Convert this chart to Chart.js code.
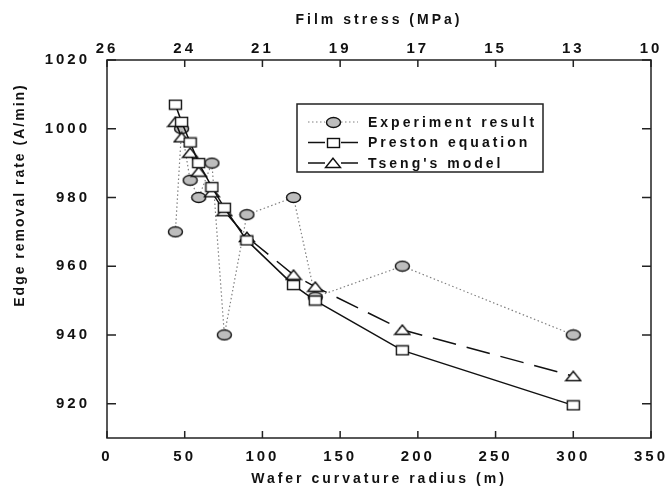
<!DOCTYPE html>
<html lang="en">
<head>
<meta charset="UTF-8">
<title>Edge removal rate vs wafer curvature radius</title>
<script src="https://cdn.jsdelivr.net/npm/chart.js"></script>
<style>
    html, body { margin: 0; padding: 0; background: #fff; }
    .chart-container { position: relative; width: 667px; height: 488px; }
</style>
</head>
<body>
<div class="chart-container"><canvas id="removalChart"></canvas></div>
<script>
// Wafer curvature radius (m) for every measured/modelled point
const radius = [44, 48, 53.5, 59, 67.5, 75.5, 90, 120, 134, 190, 300];
// Edge removal rate (A/min)
const experiment = [970, 1000, 985, 980, 990, 940, 975, 980, 951, 960, 940];
const preston = [1007, 1002, 996, 990, 983, 977, 967.5, 954.5, 950, 935.5, 919.5];
const tseng = [1002, 997.5, 993, 987.5, 981.5, 976, 968.5, 957.5, 954, 941.5, 928];

const radiusTicks = [0, 50, 100, 150, 200, 250, 300, 350];
const stressLabels = ['26', '24', '21', '19', '17', '15', '13', '10'];
const rateTicks = [920, 940, 960, 980, 1000, 1020];

const FONT = "'Liberation Sans', Arial, sans-serif";
Chart.defaults.font.family = FONT;
Chart.defaults.color = '#111';

// small canvases used as point styles (markers are slightly squashed)
function makeMarker(w, h, draw) {
    const c = document.createElement('canvas');
    c.width = w;
    c.height = h;
    const g = c.getContext('2d');
    g.lineWidth = 1.4;
    g.strokeStyle = '#111';
    draw(g);
    return c;
}
const ovalMarker = makeMarker(17, 13, g => {
    g.beginPath();
    g.ellipse(8.5, 6.5, 7, 5, 0, 0, Math.PI * 2);
    g.fillStyle = '#bdbdbd';
    g.fill();
    g.stroke();
});
const squareMarker = makeMarker(15, 12, g => {
    g.fillStyle = '#fff';
    g.fillRect(1.5, 1.5, 12, 9);
    g.strokeRect(1.5, 1.5, 12, 9);
});
const triangleMarker = makeMarker(18, 12, g => {
    g.beginPath();
    g.moveTo(9, 1.2);
    g.lineTo(16.5, 10.5);
    g.lineTo(1.5, 10.5);
    g.closePath();
    g.fillStyle = '#fff';
    g.fill();
    g.stroke();
});

const toPoints = ys => radius.map((r, i) => ({ x: r, y: ys[i] }));

const fixedTicks = list => scale => { scale.ticks = list.map(v => ({ value: v })); };

// frame with inward ticks, rotated y title and the boxed legend
const framePlugin = {
    id: 'frame',
    beforeUpdate(chart) { chart.ctx.letterSpacing = '3px'; },
    beforeDraw(chart) { chart.ctx.letterSpacing = '3px'; },
    afterDraw(chart) {
        const { ctx, chartArea: a, scales } = chart;
        ctx.save();
        ctx.strokeStyle = '#222';
        ctx.lineWidth = 1.5;
        ctx.strokeRect(a.left, a.top, a.right - a.left, a.bottom - a.top);
        ctx.beginPath();
        radiusTicks.forEach(v => {
            const px = scales.x.getPixelForValue(v);
            ctx.moveTo(px, a.bottom); ctx.lineTo(px, a.bottom - 7);
            ctx.moveTo(px, a.top); ctx.lineTo(px, a.top + 7);
        });
        rateTicks.forEach(v => {
            const py = scales.y.getPixelForValue(v);
            ctx.moveTo(a.left, py); ctx.lineTo(a.left + 9, py);
            ctx.moveTo(a.right, py); ctx.lineTo(a.right - 9, py);
        });
        ctx.stroke();

        // y axis title
        ctx.save();
        ctx.letterSpacing = '2px';
        ctx.translate(20, 195);
        ctx.rotate(-Math.PI / 2);
        ctx.font = 'bold 14px ' + FONT;
        ctx.fillStyle = '#111';
        ctx.textAlign = 'center';
        ctx.textBaseline = 'middle';
        ctx.fillText('Edge removal rate (A/min)', 0, 0);
        ctx.restore();

        // legend
        const box = { x: 297, y: 104, w: 246, h: 68 };
        ctx.fillStyle = '#fff';
        ctx.fillRect(box.x, box.y, box.w, box.h);
        ctx.strokeStyle = '#222';
        ctx.lineWidth = 1.5;
        ctx.strokeRect(box.x, box.y, box.w, box.h);
        ctx.font = 'bold 14px ' + FONT;
        ctx.textAlign = 'left';
        ctx.textBaseline = 'middle';
        chart.data.datasets.forEach((ds, i) => {
            const y = box.y + 18 + i * 20.5;
            const mid = box.x + 36;
            ctx.strokeStyle = ds.borderColor;
            ctx.lineWidth = ds.borderWidth;
            ctx.setLineDash(ds.borderDash || []);
            ctx.beginPath();
            ctx.moveTo(mid - 25, y); ctx.lineTo(mid - 8, y);
            ctx.stroke();
            ctx.beginPath();
            ctx.moveTo(mid + 8, y); ctx.lineTo(mid + 25, y);
            ctx.stroke();
            ctx.setLineDash([]);
            const m = ds.pointStyle;
            ctx.drawImage(m, Math.round(mid - m.width / 2), Math.round(y - m.height / 2));
            ctx.fillStyle = '#111';
            ctx.fillText(ds.label, box.x + 71, y + 1);
        });
        ctx.restore();
    }
};

function createRemovalChart() {
    const ctx = document.getElementById('removalChart').getContext('2d');
    new Chart(ctx, {
        type: 'line',
        data: {
            datasets: [
                {
                    label: 'Experiment result',
                    data: toPoints(experiment),
                    borderColor: '#808080',
                    borderWidth: 1.2,
                    borderDash: [1.5, 2.5],
                    pointStyle: ovalMarker,
                    order: 3
                },
                {
                    label: 'Preston equation',
                    data: toPoints(preston),
                    borderColor: '#111',
                    borderWidth: 1.5,
                    pointStyle: squareMarker,
                    order: 1
                },
                {
                    label: "Tseng's model",
                    data: toPoints(tseng),
                    borderColor: '#111',
                    borderWidth: 1.5,
                    borderDash: [24, 11],
                    pointStyle: triangleMarker,
                    order: 2
                }
            ]
        },
        options: {
            responsive: true,
            maintainAspectRatio: false,
            animation: false,
            layout: { padding: 0 },
            elements: { line: { tension: 0, fill: false } },
            plugins: {
                legend: { display: false },
                tooltip: { enabled: false }
            },
            scales: {
                x: {
                    type: 'linear',
                    position: 'bottom',
                    min: 0,
                    max: 350,
                    afterBuildTicks: fixedTicks(radiusTicks),
                    afterFit: s => { s.height = 50; s.paddingLeft = 0; s.paddingRight = 0; },
                    grid: { display: false },
                    border: { display: false },
                    ticks: {
                        font: { size: 15, weight: 'bold' },
                        padding: 2,
                        maxRotation: 0,
                        autoSkip: false,
                        callback: v => String(v)
                    },
                    title: {
                        display: true,
                        text: 'Wafer curvature radius (m)',
                        font: { size: 14, weight: 'bold' },
                        padding: { top: 0, bottom: 0 }
                    }
                },
                x2: {
                    type: 'linear',
                    position: 'top',
                    min: 0,
                    max: 350,
                    afterBuildTicks: fixedTicks(radiusTicks),
                    afterFit: s => { s.height = 60; s.paddingLeft = 0; s.paddingRight = 0; },
                    grid: { display: false },
                    border: { display: false },
                    ticks: {
                        font: { size: 15, weight: 'bold' },
                        padding: -6,
                        maxRotation: 0,
                        autoSkip: false,
                        callback: v => stressLabels[radiusTicks.indexOf(v)]
                    },
                    title: {
                        display: true,
                        text: 'Film stress (MPa)',
                        font: { size: 14, weight: 'bold' },
                        padding: { top: 12, bottom: 0 }
                    }
                },
                y: {
                    type: 'linear',
                    position: 'left',
                    min: 910,
                    max: 1020,
                    afterBuildTicks: fixedTicks(rateTicks),
                    afterFit: s => { s.width = 107; s.paddingTop = 0; s.paddingBottom = 0; },
                    grid: { display: false },
                    border: { display: false },
                    ticks: { font: { size: 15, weight: 'bold' }, padding: 9, callback: v => String(v) }
                },
                y2: {
                    type: 'linear',
                    position: 'right',
                    min: 910,
                    max: 1020,
                    afterFit: s => { s.width = 16; s.paddingTop = 0; s.paddingBottom = 0; },
                    grid: { display: false },
                    border: { display: false },
                    ticks: { display: false }
                }
            }
        },
        plugins: [framePlugin]
    });
}

window.addEventListener('load', createRemovalChart);
</script>
</body>
</html>
